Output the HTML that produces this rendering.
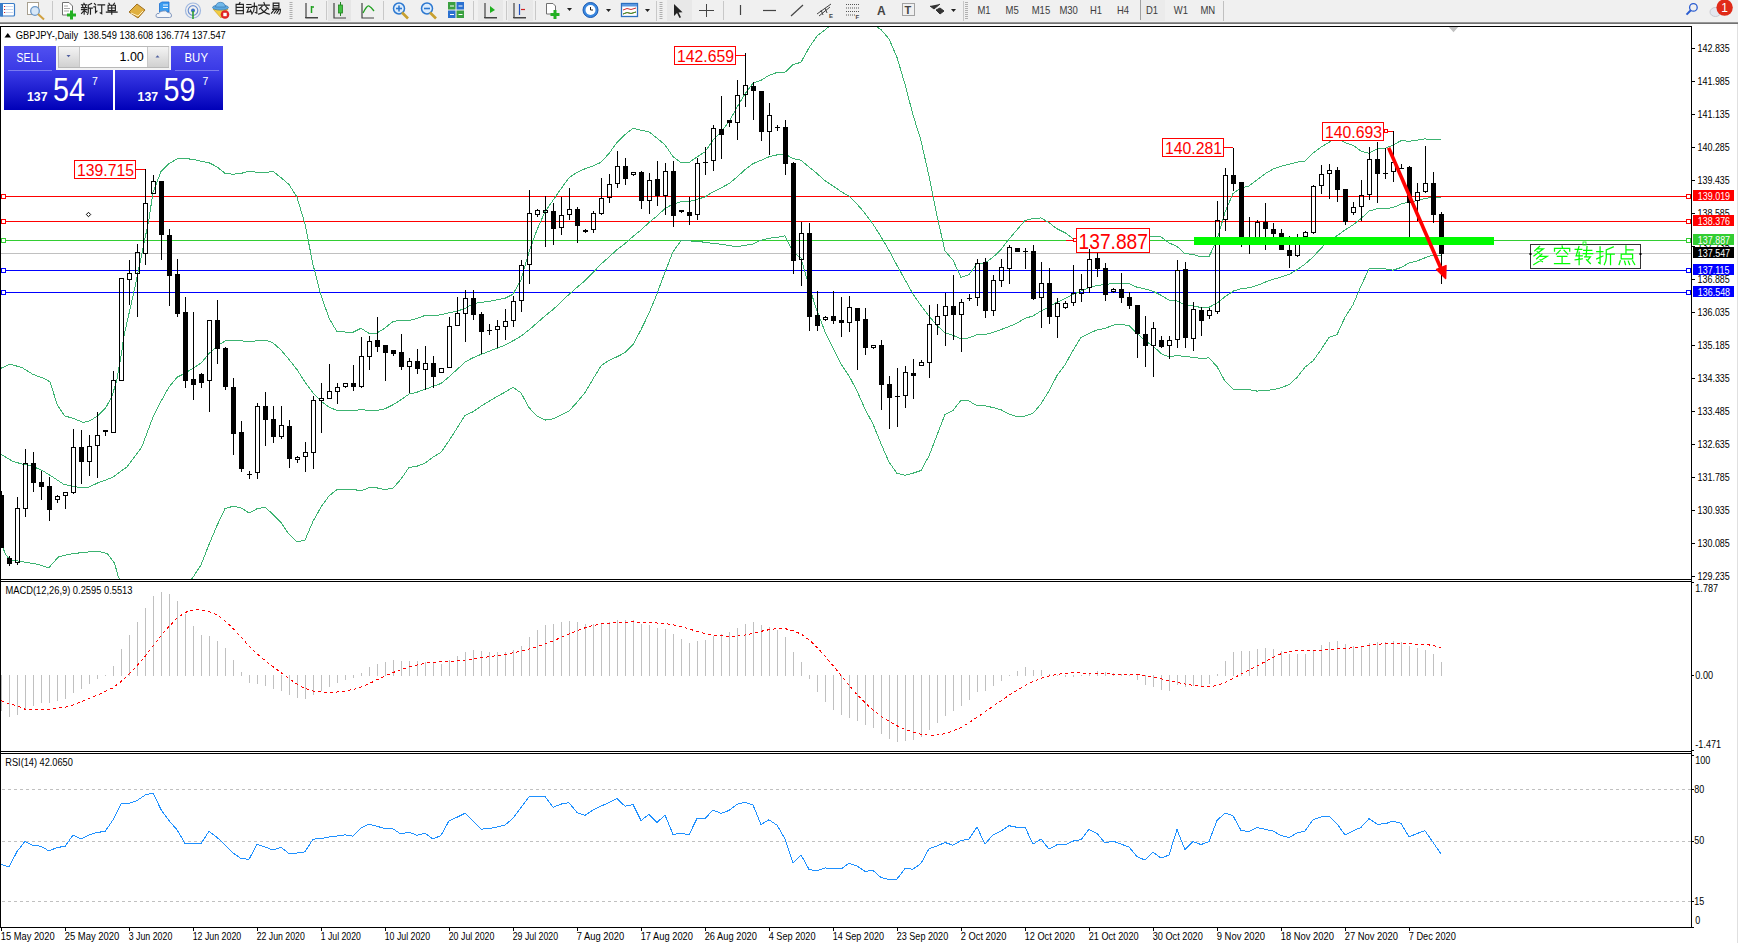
<!DOCTYPE html>
<html><head><meta charset="utf-8"><style>html,body{margin:0;padding:0;background:#fff;overflow:hidden}svg{display:block}text{font-family:"Liberation Sans",sans-serif}</style></head><body>
<svg width="1738" height="943" viewBox="0 0 1738 943" font-family='"Liberation Sans", sans-serif'>
<defs><linearGradient id="tbl" x1="0" y1="0" x2="0" y2="1"><stop offset="0" stop-color="#a8a8a8"/><stop offset="1" stop-color="#606060"/></linearGradient><linearGradient id="hdr" x1="0" y1="0" x2="0" y2="1"><stop offset="0" stop-color="#5050f0"/><stop offset="1" stop-color="#3a3ae6"/></linearGradient><linearGradient id="pbox" x1="0" y1="0" x2="0" y2="1"><stop offset="0" stop-color="#3c3ce8"/><stop offset="1" stop-color="#0000b8"/></linearGradient><linearGradient id="btn" x1="0" y1="0" x2="0" y2="1"><stop offset="0" stop-color="#f4f4f4"/><stop offset="1" stop-color="#d0d0d0"/></linearGradient><clipPath id="mc"><rect x="1" y="27" width="1690" height="552"/></clipPath><clipPath id="macdc"><rect x="1" y="582" width="1690" height="169"/></clipPath><clipPath id="rsic"><rect x="1" y="754" width="1690" height="173"/></clipPath></defs>
<rect width="1738" height="943" fill="#fff"/>
<rect x="0" y="0" width="1738" height="22" fill="#f0f0f0"/>
<rect x="0" y="22" width="1738" height="2" fill="url(#tbl)"/>
<rect x="0" y="24" width="1738" height="2" fill="#fdfdfd"/>
<rect x="0.5" y="3.5" width="14" height="12.5" rx="1" fill="#fff" stroke="#3a7cc8" stroke-width="1.2"/><rect x="0" y="3" width="3" height="13.5" fill="#3a7cc8"/><path d="M5 6.5H13M5 9.5H13M5 12.5H13" stroke="#c9d6ee" stroke-width="1"/><path d="M4 6.5h1M4 9.5h1M4 12.5h1" stroke="#e02020" stroke-width="1.2"/><rect x="27.5" y="2.5" width="11" height="12" fill="#fff" stroke="#a8a090" stroke-width="1"/><circle cx="35" cy="11" r="4.3" fill="#d8e8f8" stroke="#6c98c8" stroke-width="1.3"/><path d="M38 14L44 19.5" stroke="#d0a040" stroke-width="2"/><rect x="52" y="1" width="1" height="19" fill="#c8c8c8"/><path d="M62.5 2.5H69L72.5 6V15H62.5Z" fill="#fff" stroke="#707070" stroke-width="1"/><path d="M64 6H68M64 8.5H70M64 11H69" stroke="#909090" stroke-width="0.8"/><path d="M71.5 10.5V19.5M67 15H76" stroke="#22b022" stroke-width="3"/><path transform="translate(81.00 2.80) scale(0.958)" d="M3 0.5L3.6 1.6M0.5 2H6M1.6 3L2 4.5M4.9 3L4.5 4.5M0.5 5H6M0.5 7.2H6M3.3 5V12M3.3 8L0.6 11M3.3 8L6 10M11 0.8L7.6 2.4V9Q7.6 11 6.8 12M7.6 5.6H11.8M9.9 5.6V12" fill="none" stroke="#222" stroke-width="1.200" stroke-linecap="square"/><path transform="translate(93.50 2.80) scale(0.958)" d="M1 0.8L2.2 2.2M0.4 4.2H2.1V10.2L3.6 8.6M4.6 2.2H11.6M8.6 2.2V11.4L7 10.4" fill="none" stroke="#222" stroke-width="1.200" stroke-linecap="square"/><path transform="translate(106.00 2.80) scale(0.958)" d="M3 0.4L4 2M8.8 0.4L7.8 2M2.2 2.6H9.8V8.2H2.2ZM2.2 5.4H9.8M6 2.6V12M0.4 9.8H11.6" fill="none" stroke="#222" stroke-width="1.200" stroke-linecap="square"/><path d="M129 12L137 4L145 10L138 18Z" fill="#e0b040" stroke="#a07020" stroke-width="1"/><path d="M131 13L138 16L143 11" fill="none" stroke="#fff0c0" stroke-width="1"/><path d="M159.5 3.5L162 2H169V12H159.5Z" fill="#3c9cf0" stroke="#1a70d0" stroke-width="0.8"/><path d="M163 5H168M163 7.5H168" stroke="#e8f4ff" stroke-width="1.2"/><path d="M158 17.5Q155.5 17.5 156 15Q156.5 13 159 13.5Q160 10.5 163.5 11Q166 10 167.5 12.5Q171 12 171.5 15Q172 17.5 169.5 17.5Z" fill="#f4f6fa" stroke="#7890b8" stroke-width="0.9"/><circle cx="193" cy="10.5" r="7.5" fill="none" stroke="#a0b8e0" stroke-width="1.2"/><circle cx="193" cy="10.5" r="4.8" fill="none" stroke="#6d90d0" stroke-width="1.2"/><circle cx="193" cy="10.5" r="2" fill="#3a70c0"/><path d="M193 11V19" stroke="#30a030" stroke-width="1.6"/><path d="M213 9L228 9L221 18Z" fill="#f2cc40" stroke="#c89a20" stroke-width="0.6"/><ellipse cx="220.5" cy="7.5" rx="8" ry="2.6" fill="#5aa8e0" stroke="#3a78b0" stroke-width="0.7"/><path d="M215.5 7Q216 2.5 220.5 2.3Q225 2.5 225.5 7Z" fill="#70b8ea" stroke="#3a78b0" stroke-width="0.7"/><circle cx="225" cy="14.5" r="4.3" fill="#e02424"/><rect x="223.3" y="12.8" width="3.4" height="3.4" fill="#fff"/><path transform="translate(234.00 2.60) scale(0.958)" d="M6.2 0L5.2 1.6M2.2 1.8H9.8V11.6H2.2ZM2.2 5H9.8M2.2 8.3H9.8" fill="none" stroke="#222" stroke-width="1.200" stroke-linecap="square"/><path transform="translate(246.10 2.60) scale(0.958)" d="M0.8 2H5M0.4 5H5.8M3 5L1 10L5.4 9.2M4.4 7.8L5.8 11M6.2 4H11.2V11L9.6 10.4M8.6 0.6V4.6Q8.4 9.6 6 12" fill="none" stroke="#222" stroke-width="1.200" stroke-linecap="square"/><path transform="translate(258.20 2.60) scale(0.958)" d="M6 0L6.6 1.6M0.4 2.6H11.6M4 4L1.4 6.6M8 4L10.6 6.6M3.2 6.6Q6 11 11.6 12M8.8 6.6Q6 11 0.4 12" fill="none" stroke="#222" stroke-width="1.200" stroke-linecap="square"/><path transform="translate(270.30 2.60) scale(0.958)" d="M3 0.6H9V5.6H3ZM3 3.1H9M2.4 7H10.6Q10.6 11.6 9 12M4.4 7L1.2 11M6.8 7.4L4.2 11M9 7.6L6.8 11" fill="none" stroke="#222" stroke-width="1.200" stroke-linecap="square"/><path d="M291 2V20" stroke="#b0b0b0" stroke-width="3" stroke-dasharray="1 1"/><path d="M306 3V18H318M305 17.5h13" fill="none" stroke="#444" stroke-width="1.2"/><path d="M311.5 6V13M311.5 7h2.5" fill="none" stroke="#20a020" stroke-width="1.5"/><rect x="326" y="1" width="1" height="19" fill="#c8c8c8"/><rect x="328" y="0" width="23" height="21" fill="#e6e6e6"/><path d="M334 3V18H346" fill="none" stroke="#444" stroke-width="1.2"/><rect x="338.5" y="5" width="4" height="8" fill="#40c040" stroke="#208020" stroke-width="0.8"/><path d="M340.5 2V5M340.5 13V16" stroke="#208020" stroke-width="1"/><path d="M362 3V18H374" fill="none" stroke="#444" stroke-width="1.2"/><path d="M363 13Q367 5 369 6T374 11" fill="none" stroke="#20a020" stroke-width="1.3"/><rect x="383" y="1" width="1" height="19" fill="#c8c8c8"/><circle cx="399" cy="8.5" r="5.5" fill="#dcecfc" stroke="#2c78d0" stroke-width="1.5"/><path d="M402 12.5L408 18.5" stroke="#c8a030" stroke-width="2.6"/><path d="M396 8.5h6" stroke="#2c78d0" stroke-width="1.6"/><path d="M399 5.5v6" stroke="#2c78d0" stroke-width="1.6"/><circle cx="427" cy="8.5" r="5.5" fill="#dcecfc" stroke="#2c78d0" stroke-width="1.5"/><path d="M430 12.5L436 18.5" stroke="#c8a030" stroke-width="2.6"/><path d="M424 8.5h6" stroke="#2c78d0" stroke-width="1.6"/><rect x="448" y="2" width="7.5" height="7.5" fill="#3aa040"/><rect x="456.5" y="2" width="7.5" height="7.5" fill="#2a70d0"/><rect x="448" y="10.5" width="7.5" height="7.5" fill="#2a70d0"/><rect x="456.5" y="10.5" width="7.5" height="7.5" fill="#3aa040"/><path d="M450 6h4M458.5 6h4M450 14.5h4M458.5 14.5h4" stroke="#fff" stroke-width="1"/><rect x="473" y="1" width="1" height="19" fill="#c8c8c8"/><rect x="478" y="0" width="25" height="21" fill="#e8e8e8"/><path d="M485 3V18H497M484 17.5h13" fill="none" stroke="#444" stroke-width="1.2"/><path d="M490 6L495 10L490 13Z" fill="#20b020"/><rect x="506" y="1" width="1" height="19" fill="#c8c8c8"/><rect x="508" y="0" width="25" height="21" fill="#e8e8e8"/><path d="M514 3V18H526M513 17.5h13" fill="none" stroke="#444" stroke-width="1.2"/><path d="M519.5 4V15" stroke="#2050c0" stroke-width="1.2"/><path d="M521 9.5h4" stroke="#d02020" stroke-width="1.2"/><rect x="535" y="1" width="1" height="19" fill="#c8c8c8"/><path d="M546.5 3.5H553L555.5 6V14H546.5Z" fill="#fff" stroke="#707070" stroke-width="1"/><path d="M555 10V19M550.5 14.5H559.5" stroke="#22b022" stroke-width="3"/><path d="M567 8h5l-2.5 3z" fill="#222"/><circle cx="590.5" cy="10" r="7.5" fill="#3a88e0" stroke="#1a58b0" stroke-width="1"/><circle cx="590.5" cy="10" r="5" fill="#fff"/><path d="M590.5 7V10H593" fill="none" stroke="#222" stroke-width="1"/><path d="M606 9h5l-2.5 3z" fill="#222"/><rect x="621.5" y="3.5" width="16" height="13" fill="#fff" stroke="#2c70c0" stroke-width="1.3"/><rect x="622" y="4" width="15" height="2.5" fill="#5a98e0"/><path d="M623 10L627 8.5L631 9.5L636 8M623 14L627 12.5L631 13.5L636 12" fill="none" stroke="#d03030" stroke-width="1"/><path d="M623 14L627 12.5L631 13.5L636 12" fill="none" stroke="#30a030" stroke-width="1"/><path d="M645 9h5l-2.5 3z" fill="#222"/><rect x="656" y="1" width="1" height="20" fill="#c8c8c8"/><path d="M661 2V20" stroke="#b0b0b0" stroke-width="3" stroke-dasharray="1 1"/><rect x="667" y="0" width="25" height="21" fill="#e8e8e8"/><path d="M674 4L674 16L677 13L679.5 18L681 17.3L678.6 12.4L682.5 12.2Z" fill="#222"/><path d="M706.5 4V17M699 10.5H714" stroke="#444" stroke-width="1"/><rect x="723" y="1" width="1" height="19" fill="#c8c8c8"/><path d="M740.5 5V15" stroke="#444" stroke-width="1.2"/><path d="M763 10.5H776" stroke="#444" stroke-width="1.2"/><path d="M791 16L803 5" stroke="#444" stroke-width="1.2"/><path d="M817 14L831 4M819 16L830 7M821 10L823 15M825 8L827 13" stroke="#444" stroke-width="1"/><text x="829" y="18" font-size="6" fill="#444" font-weight="bold">E</text><path d="M846 4.5H859M846 8H859M846 11.5H859M846 15H855" stroke="#555" stroke-width="1" stroke-dasharray="1 1"/><text x="855.5" y="19" font-size="6" fill="#444" font-weight="bold">F</text><text x="877" y="15" font-size="12" fill="#444" font-weight="bold">A</text><rect x="902.5" y="3.5" width="12" height="12" fill="none" stroke="#555" stroke-width="1" stroke-dasharray="1 1"/><text x="904.5" y="14" font-size="11" fill="#444" font-weight="bold">T</text><path d="M930 6L934 9L940 4M936 10L940 14L944 11L940 8Z" fill="#333" stroke="#333" stroke-width="1"/><path d="M951 9h5l-2.5 3z" fill="#222"/><rect x="963" y="1" width="1" height="20" fill="#c8c8c8"/><path d="M966.5 2V20" stroke="#b0b0b0" stroke-width="3" stroke-dasharray="1 1"/><rect x="1140" y="0" width="25" height="21" fill="#ebebeb"/><rect x="1140" y="0" width="1" height="20" fill="#a0a0a0"/><text x="977.40" y="14.00" font-size="10.3" fill="#3c3c3c" text-anchor="start" textLength="13.2" lengthAdjust="spacingAndGlyphs">M1</text><text x="1005.60" y="14.00" font-size="10.3" fill="#3c3c3c" text-anchor="start" textLength="13.2" lengthAdjust="spacingAndGlyphs">M5</text><text x="1031.70" y="14.00" font-size="10.3" fill="#3c3c3c" text-anchor="start" textLength="18.5" lengthAdjust="spacingAndGlyphs">M15</text><text x="1059.40" y="14.00" font-size="10.3" fill="#3c3c3c" text-anchor="start" textLength="18.5" lengthAdjust="spacingAndGlyphs">M30</text><text x="1090.00" y="14.00" font-size="10.3" fill="#3c3c3c" text-anchor="start" textLength="12.1" lengthAdjust="spacingAndGlyphs">H1</text><text x="1117.00" y="14.00" font-size="10.3" fill="#3c3c3c" text-anchor="start" textLength="12.1" lengthAdjust="spacingAndGlyphs">H4</text><text x="1146.00" y="14.00" font-size="10.3" fill="#3c3c3c" text-anchor="start" textLength="12.1" lengthAdjust="spacingAndGlyphs">D1</text><text x="1173.80" y="14.00" font-size="10.3" fill="#3c3c3c" text-anchor="start" textLength="14.2" lengthAdjust="spacingAndGlyphs">W1</text><text x="1200.40" y="14.00" font-size="10.3" fill="#3c3c3c" text-anchor="start" textLength="14.8" lengthAdjust="spacingAndGlyphs">MN</text><rect x="1223" y="1" width="1" height="20" fill="#c0c0c0"/><circle cx="1693.4" cy="7.4" r="3.8" fill="none" stroke="#2a5cd0" stroke-width="1.3"/><path d="M1690.8 10.2L1686.5 14.6" stroke="#2a5cd0" stroke-width="2"/><ellipse cx="1715.5" cy="12" rx="5.5" ry="4.5" fill="#e4e6ee" stroke="#c0c0c8" stroke-width="0.8"/><circle cx="1724.6" cy="7.6" r="8.2" fill="#e02a18"/><text x="1724.6" y="12" font-size="12" fill="#fff" text-anchor="middle" font-family='"Liberation Serif", serif'>1</text>
<rect x="1737" y="24" width="1" height="919" fill="#e0e0e0"/>
<g shape-rendering="crispEdges">
<rect x="1" y="253" width="1690" height="1" fill="#c0c0c0"/>
<rect x="1" y="196" width="1690" height="1" fill="#ff0000"/>
<rect x="1.5" y="194.5" width="4" height="4" fill="#fff" stroke="#ff0000" stroke-width="1"/>
<rect x="1686.5" y="194.5" width="4" height="4" fill="#fff" stroke="#ff0000" stroke-width="1"/>
<rect x="1" y="221" width="1690" height="1" fill="#ff0000"/>
<rect x="1.5" y="219.5" width="4" height="4" fill="#fff" stroke="#ff0000" stroke-width="1"/>
<rect x="1686.5" y="219.5" width="4" height="4" fill="#fff" stroke="#ff0000" stroke-width="1"/>
<rect x="1" y="240" width="1690" height="1" fill="#32cd32"/>
<rect x="1.5" y="238.5" width="4" height="4" fill="#fff" stroke="#32cd32" stroke-width="1"/>
<rect x="1686.5" y="238.5" width="4" height="4" fill="#fff" stroke="#32cd32" stroke-width="1"/>
<rect x="1" y="270" width="1690" height="1" fill="#0000ff"/>
<rect x="1.5" y="268.5" width="4" height="4" fill="#fff" stroke="#0000ff" stroke-width="1"/>
<rect x="1686.5" y="268.5" width="4" height="4" fill="#fff" stroke="#0000ff" stroke-width="1"/>
<rect x="1" y="292" width="1690" height="1" fill="#0000ff"/>
<rect x="1.5" y="290.5" width="4" height="4" fill="#fff" stroke="#0000ff" stroke-width="1"/>
<rect x="1686.5" y="290.5" width="4" height="4" fill="#fff" stroke="#0000ff" stroke-width="1"/>
</g>
<g fill="none" stroke="#3cb371" stroke-width="1" clip-path="url(#mc)" shape-rendering="crispEdges">
<path d="M1 368.3 L9.8 364.1 L22 367.6 L33 374.4 L42.7 378 L50 381.7 L57.3 404.9 L64.6 415.9 L73.2 418.3 L83 422.4 L90.2 420.7 L97.6 415.9 L106 407.3 L112 396.3 L117 379.3 L122 350 L123.5 338 L135 287 L149 219 L153 192.3 L161 171.6 L169 163.7 L177 159 L185 158.5 L193 159.4 L201 161.2 L209 162.7 L217 166.9 L225 173.3 L233 174.2 L241 173.5 L249 171 L257 172.3 L265 172.9 L273 171.2 L281 177.7 L289 184.5 L297 197.2 L305 224.1 L313 264.6 L321 295.4 L329 318 L337 331.8 L345 332 L353 332.3 L361 328.3 L369 333.4 L377 333 L385 328 L393 321.5 L401 320.3 L409 320.7 L417 318.3 L425 315.5 L433 315.7 L441 314.7 L449 312.8 L457 311.1 L465 308.6 L473 303.6 L481 302.5 L489 301.3 L497 299.9 L505 298.2 L513 294.3 L521 279.7 L529 252.1 L537 229.8 L545 211.6 L553 200.3 L561 188.8 L569 177.7 L577 172.3 L585 168.8 L593 166 L601 162.3 L609 153.5 L617 142.4 L625 134.6 L633 128.4 L641 130.2 L649 131.8 L657 138.1 L665 144.9 L673 156.6 L681 162.6 L689 162.6 L697 156.9 L705 151.8 L713 140.2 L721 131.7 L729 121.7 L737 107.3 L745 94 L753 83.2 L761 80.4 L769 75.3 L777 72.5 L785 72.3 L793 64.6 L801 62.3 L809 47.8 L817 36 L825 29.8 L833 23.7 L841 18.8 L849 16.4 L857 17.1 L865 17.5 L873 24.3 L881 29.6 L889 38.9 L897 57.4 L905 84.3 L913 114.9 L921 140.6 L929 176.2 L937 215.8 L945 251 L953 260.1 L961 277.5 L969 274.7 L977 263.6 L985 262.9 L993 257.3 L1001 249.4 L1009 239.1 L1017 229.7 L1025 220.5 L1033 218.6 L1041 217.9 L1049 222.7 L1057 228.8 L1065 232.7 L1073 238.7 L1081 244.5 L1089 241.8 L1097 240.7 L1105 240.9 L1113 241.8 L1121 241.9 L1129 241.6 L1137 241.1 L1145 237.1 L1153 236.9 L1161 237 L1169 242.9 L1177 246.4 L1185 253.7 L1193 254.3 L1201 256.9 L1209 256.7 L1217 239.7 L1225 212.2 L1233 193.5 L1241 188 L1249 185.9 L1257 179.9 L1265 173.8 L1273 169.1 L1281 166.3 L1289 164.3 L1297 162.1 L1305 161.2 L1313 153.2 L1321 147 L1329 142.3 L1337 137 L1345 142.8 L1353 145.2 L1361 151.2 L1369 153.3 L1377 148.9 L1385 148.5 L1393 145 L1401 140.7 L1409 141.2 L1417 140.2 L1425 138.9 L1433 139.7 L1441 139.2"/>
<path d="M1 454.4 L12.2 461 L22 464.1 L31.7 465.9 L42.7 470.7 L52.4 476.8 L63.4 484.1 L73.2 486.6 L83 487.8 L89 487.1 L97.6 483 L112.2 477.6 L126.8 467 L141.5 447.6 L153 417.1 L161 401.4 L169 387 L177 377.3 L185 373.2 L193 368.3 L201 363.1 L209 353.6 L217 346.2 L225 341 L233 340.3 L241 340.6 L249 342 L257 340.6 L265 340 L273 342.8 L281 350.1 L289 359.4 L297 369.6 L305 382.1 L313 393 L321 401.2 L329 407 L337 410.6 L345 410.7 L353 410.9 L361 409.5 L369 410.6 L377 410.5 L385 408.8 L393 404.8 L401 399.7 L409 394.1 L417 392.2 L425 389.4 L433 386.4 L441 383.5 L449 376.8 L457 369.6 L465 362 L473 357.7 L481 354.4 L489 351.3 L497 348.2 L505 345.1 L513 340.8 L521 336.2 L529 329.9 L537 323 L545 315.9 L553 309.6 L561 302 L569 294.4 L577 287.3 L585 280.7 L593 272.5 L601 264.1 L609 257 L617 249.6 L625 243.6 L633 236.5 L641 230 L649 222.5 L657 216 L665 208.5 L673 204.2 L681 201.6 L689 201.7 L697 199.4 L705 196.9 L713 191.9 L721 187.9 L729 183.6 L737 177 L745 169.7 L753 163.6 L761 160.3 L769 156.8 L777 154.9 L785 154.1 L793 158.5 L801 160.2 L809 167 L817 173.5 L825 180.7 L833 186 L841 191.5 L849 196.1 L857 204 L865 213.3 L873 224.2 L881 236.7 L889 250.4 L897 265.4 L905 279.8 L913 294 L921 305.6 L929 316.1 L937 325.5 L945 332.7 L953 335.4 L961 338.8 L969 337.9 L977 334.7 L985 334.4 L993 332.4 L1001 329.6 L1009 326.6 L1017 323.2 L1025 318.3 L1033 316 L1041 310.9 L1049 306.8 L1057 302.2 L1065 298.7 L1073 294.6 L1081 291 L1089 287.7 L1097 285.3 L1105 284.7 L1113 283.4 L1121 283.2 L1129 283.6 L1137 287.2 L1145 288.9 L1153 291.3 L1161 295.3 L1169 300 L1177 300.9 L1185 305.2 L1193 305.7 L1201 307.6 L1209 307.3 L1217 303.1 L1225 296.7 L1233 291.2 L1241 288.6 L1249 287.8 L1257 285.5 L1265 282.2 L1273 279.4 L1281 277 L1289 274.5 L1297 269.8 L1305 264.1 L1313 257 L1321 248.4 L1329 239.9 L1337 235.8 L1345 230 L1353 224.9 L1361 218.6 L1369 211.1 L1377 208.8 L1385 208.7 L1393 207.6 L1401 204.1 L1409 202.1 L1417 200.6 L1425 198.4 L1433 197.4 L1441 197.6"/>
<path d="M1 543.9 L6 554.9 L9.8 559.8 L22 561.7 L36.6 564.1 L48.8 567.8 L58.5 556.8 L68.3 554.4 L83 552.4 L97.6 551.2 L107.3 553.7 L114.6 563.4 L118.3 576.8 L153 641.9 L161 631.3 L169 610.4 L177 595.6 L185 587.9 L193 577.2 L201 565 L209 544.5 L217 525.6 L225 508.6 L233 506.3 L241 507.8 L249 513 L257 508.8 L265 507.1 L273 514.4 L281 522.6 L289 534.3 L297 542.1 L305 540 L313 521.4 L321 507 L329 496 L337 489.5 L345 489.5 L353 489.4 L361 490.8 L369 487.7 L377 487.9 L385 489.6 L393 488.2 L401 479.1 L409 467.4 L417 466.2 L425 463.2 L433 457 L441 452.3 L449 440.8 L457 428.2 L465 415.3 L473 411.8 L481 406.2 L489 401.3 L497 396.6 L505 392.1 L513 387.4 L521 392.8 L529 407.6 L537 416.2 L545 420.1 L553 418.8 L561 415.2 L569 411.1 L577 402.3 L585 392.6 L593 379 L601 365.8 L609 360.4 L617 356.8 L625 352.6 L633 344.6 L641 329.7 L649 313.2 L657 293.8 L665 272.1 L673 251.8 L681 240.6 L689 240.8 L697 241.8 L705 242.1 L713 243.7 L721 244.1 L729 245.5 L737 246.7 L745 245.4 L753 244 L761 240.2 L769 238.3 L777 237.3 L785 235.9 L793 252.4 L801 258 L809 286.1 L817 310.9 L825 331.7 L833 348.3 L841 364.2 L849 375.8 L857 390.9 L865 409.1 L873 424 L881 443.8 L889 461.9 L897 473.4 L905 475.3 L913 473.2 L921 470.5 L929 455.9 L937 435.2 L945 414.3 L953 410.6 L961 400.1 L969 401 L977 405.8 L985 405.9 L993 407.5 L1001 409.8 L1009 414.1 L1017 416.6 L1025 416.1 L1033 413.3 L1041 403.8 L1049 390.9 L1057 375.6 L1065 364.8 L1073 350.5 L1081 337.4 L1089 333.5 L1097 329.9 L1105 328.5 L1113 325.1 L1121 324.5 L1129 325.6 L1137 333.3 L1145 340.8 L1153 345.8 L1161 353.6 L1169 357 L1177 355.3 L1185 356.7 L1193 357.2 L1201 358.4 L1209 357.9 L1217 366.6 L1225 381.2 L1233 389 L1241 389.3 L1249 389.7 L1257 391.1 L1265 390.5 L1273 389.7 L1281 387.7 L1289 384.7 L1297 377.5 L1305 367.1 L1313 360.9 L1321 349.7 L1329 337.4 L1337 334.7 L1345 317.3 L1353 304.7 L1361 286 L1369 268.9 L1377 268.7 L1385 268.8 L1393 270.2 L1401 267.5 L1409 263.1 L1417 261 L1425 257.8 L1433 255.1 L1441 256"/>
</g>
<rect x="674.5" y="46.5" width="61" height="18" fill="#fff" stroke="#ff0000" stroke-width="1" shape-rendering="crispEdges"/><rect x="736" y="55" width="9" height="1" fill="#ff0000" shape-rendering="crispEdges"/><text x="677.0" y="62.3" font-size="16" fill="#ff0000" textLength="57.0" lengthAdjust="spacingAndGlyphs">142.659</text><rect x="74.5" y="160.5" width="61" height="18" fill="#fff" stroke="#ff0000" stroke-width="1" shape-rendering="crispEdges"/><rect x="136" y="169" width="9" height="1" fill="#ff0000" shape-rendering="crispEdges"/><text x="77.0" y="176.3" font-size="16" fill="#ff0000" textLength="57.0" lengthAdjust="spacingAndGlyphs">139.715</text><rect x="1162.5" y="138.5" width="61" height="18" fill="#fff" stroke="#ff0000" stroke-width="1" shape-rendering="crispEdges"/><rect x="1224" y="147" width="9" height="1" fill="#ff0000" shape-rendering="crispEdges"/><text x="1165.0" y="154.3" font-size="16" fill="#ff0000" textLength="57.0" lengthAdjust="spacingAndGlyphs">140.281</text><rect x="1322.5" y="122.5" width="61" height="18" fill="#fff" stroke="#ff0000" stroke-width="1" shape-rendering="crispEdges"/><rect x="1384" y="131" width="9" height="1" fill="#ff0000" shape-rendering="crispEdges"/><rect x="1384.5" y="129.5" width="3" height="3" fill="#fff" stroke="#ff0000" stroke-width="1" shape-rendering="crispEdges"/><text x="1325.0" y="138.3" font-size="16" fill="#ff0000" textLength="57.0" lengthAdjust="spacingAndGlyphs">140.693</text><rect x="1066" y="240" width="7" height="1" fill="#ff0000" shape-rendering="crispEdges"/><rect x="1073.5" y="238.5" width="2.5" height="3" fill="#fff" stroke="#ff0000" stroke-width="1" shape-rendering="crispEdges"/><rect x="1076.5" y="228.5" width="73" height="24" fill="#fff" stroke="#ff0000" stroke-width="1" shape-rendering="crispEdges"/><text x="1078.5" y="249.2" font-size="22" fill="#ff0000" textLength="69.5" lengthAdjust="spacingAndGlyphs">137.887</text><path d="M88.5 212.3L90.7 214.5L88.5 216.7L86.3 214.5Z" fill="#fff" stroke="#000" stroke-width="1"/>
<g shape-rendering="crispEdges">
<path fill="#000" d="M1 491h1v4h-1zM-1 495h5v53h-5zM9 556h1v2h-1zM7 558h5v6h-5zM9 564h1v2h-1zM17 497h1v11h-1zM15 508h5v1h-5zM15 562h5v1h-5zM15 508h1v55h-1zM19 508h1v55h-1zM17 563h1v2h-1zM25 449h1v14h-1zM23 463h5v1h-5zM23 508h5v1h-5zM23 463h1v46h-1zM27 463h1v46h-1zM25 509h1v8h-1zM33 452h1v11h-1zM31 463h5v20h-5zM33 483h1v9h-1zM41 471h1v11h-1zM39 482h5v5h-5zM41 487h1v13h-1zM49 477h1v9h-1zM47 486h5v24h-5zM49 510h1v11h-1zM57 495h1v1h-1zM55 496h5v1h-5zM55 499h5v1h-5zM55 496h1v4h-1zM59 496h1v4h-1zM57 500h1v3h-1zM63 492h5v1h-5zM63 495h5v1h-5zM63 492h1v4h-1zM67 492h1v4h-1zM65 496h1v13h-1zM73 429h1v18h-1zM71 447h5v1h-5zM71 492h5v1h-5zM71 447h1v46h-1zM75 447h1v46h-1zM73 493h1v1h-1zM81 430h1v17h-1zM79 447h5v15h-5zM81 462h1v22h-1zM89 435h1v11h-1zM87 446h5v1h-5zM87 461h5v1h-5zM87 446h1v16h-1zM91 446h1v16h-1zM89 462h1v14h-1zM97 412h1v23h-1zM95 435h5v1h-5zM95 445h5v1h-5zM95 435h1v11h-1zM99 435h1v11h-1zM97 446h1v32h-1zM103 430h5v2h-5zM105 432h1v4h-1zM113 371h1v9h-1zM111 380h5v1h-5zM111 432h5v1h-5zM111 380h1v53h-1zM115 380h1v53h-1zM119 278h5v1h-5zM119 380h5v1h-5zM119 278h1v103h-1zM123 278h1v103h-1zM129 260h1v13h-1zM127 273h5v1h-5zM127 279h5v1h-5zM127 273h1v7h-1zM131 273h1v7h-1zM129 280h1v25h-1zM137 244h1v8h-1zM135 252h5v1h-5zM135 273h5v1h-5zM135 252h1v22h-1zM139 252h1v22h-1zM137 274h1v43h-1zM145 169h1v34h-1zM143 203h5v1h-5zM143 253h5v1h-5zM143 203h1v51h-1zM147 203h1v51h-1zM145 254h1v11h-1zM153 175h1v6h-1zM151 181h5v1h-5zM151 193h5v1h-5zM151 181h1v13h-1zM155 181h1v13h-1zM159 181h5v54h-5zM161 235h1v25h-1zM169 229h1v6h-1zM167 235h5v41h-5zM169 276h1v30h-1zM177 259h1v15h-1zM175 274h5v40h-5zM177 314h1v3h-1zM185 297h1v15h-1zM183 312h5v69h-5zM185 381h1v7h-1zM193 312h1v67h-1zM191 379h5v6h-5zM193 385h1v15h-1zM201 373h1v1h-1zM199 374h5v9h-5zM201 383h1v5h-1zM207 320h5v1h-5zM207 380h5v1h-5zM207 320h1v61h-1zM211 320h1v61h-1zM209 381h1v31h-1zM217 300h1v20h-1zM215 320h5v29h-5zM217 349h1v15h-1zM225 347h1v1h-1zM223 348h5v39h-5zM225 387h1v3h-1zM233 378h1v9h-1zM231 387h5v47h-5zM233 434h1v21h-1zM241 421h1v11h-1zM239 432h5v37h-5zM241 469h1v3h-1zM249 471h1v8h-1zM247 474h5v1h-5zM257 403h1v3h-1zM255 406h5v1h-5zM255 472h5v1h-5zM255 406h1v67h-1zM259 406h1v67h-1zM257 473h1v6h-1zM265 392h1v14h-1zM263 406h5v14h-5zM265 420h1v26h-1zM273 406h1v13h-1zM271 419h5v18h-5zM273 437h1v6h-1zM281 406h1v19h-1zM279 425h5v1h-5zM279 436h5v1h-5zM279 425h1v12h-1zM283 425h1v12h-1zM281 437h1v2h-1zM289 420h1v6h-1zM287 426h5v33h-5zM289 459h1v9h-1zM297 456h1v1h-1zM295 457h5v1h-5zM295 459h5v1h-5zM295 457h1v3h-1zM299 457h1v3h-1zM297 460h1v3h-1zM305 442h1v10h-1zM303 452h5v1h-5zM303 456h5v1h-5zM303 452h1v5h-1zM307 452h1v5h-1zM305 457h1v15h-1zM313 396h1v4h-1zM311 400h5v1h-5zM311 452h5v1h-5zM311 400h1v53h-1zM315 400h1v53h-1zM313 453h1v16h-1zM321 383h1v15h-1zM319 398h5v1h-5zM319 400h5v1h-5zM319 398h1v3h-1zM323 398h1v3h-1zM321 401h1v32h-1zM329 364h1v27h-1zM327 391h5v1h-5zM327 398h5v1h-5zM327 391h1v8h-1zM331 391h1v8h-1zM337 383h1v4h-1zM335 387h5v1h-5zM335 391h5v1h-5zM335 387h1v5h-1zM339 387h1v5h-1zM337 392h1v12h-1zM343 383h5v1h-5zM343 386h5v1h-5zM343 383h1v4h-1zM347 383h1v4h-1zM345 387h1v1h-1zM353 365h1v18h-1zM351 383h5v4h-5zM353 387h1v4h-1zM361 337h1v19h-1zM359 356h5v1h-5zM359 386h5v1h-5zM359 356h1v31h-1zM363 356h1v31h-1zM361 387h1v1h-1zM369 336h1v5h-1zM367 341h5v1h-5zM367 356h5v1h-5zM367 341h1v16h-1zM371 341h1v16h-1zM369 357h1v13h-1zM377 317h1v23h-1zM375 340h5v7h-5zM377 347h1v5h-1zM383 345h5v8h-5zM385 353h1v28h-1zM391 350h5v4h-5zM393 354h1v2h-1zM401 334h1v18h-1zM399 352h5v15h-5zM401 367h1v3h-1zM409 358h1v3h-1zM407 361h5v1h-5zM407 366h5v1h-5zM407 361h1v6h-1zM411 361h1v6h-1zM409 367h1v26h-1zM417 349h1v12h-1zM415 361h5v8h-5zM417 369h1v5h-1zM425 346h1v17h-1zM423 363h5v1h-5zM423 369h5v1h-5zM423 363h1v7h-1zM427 363h1v7h-1zM425 370h1v20h-1zM433 356h1v7h-1zM431 363h5v14h-5zM433 377h1v11h-1zM439 368h5v1h-5zM439 372h5v1h-5zM439 368h1v5h-1zM443 368h1v5h-1zM449 317h1v9h-1zM447 326h5v1h-5zM447 367h5v1h-5zM447 326h1v42h-1zM451 326h1v42h-1zM457 297h1v16h-1zM455 313h5v1h-5zM455 325h5v1h-5zM455 313h1v13h-1zM459 313h1v13h-1zM465 290h1v8h-1zM463 298h5v1h-5zM463 313h5v1h-5zM463 298h1v16h-1zM467 298h1v16h-1zM465 314h1v28h-1zM473 290h1v8h-1zM471 298h5v17h-5zM473 315h1v5h-1zM481 312h1v2h-1zM479 314h5v18h-5zM481 332h1v22h-1zM489 324h1v11h-1zM487 330h5v1h-5zM497 320h1v6h-1zM495 326h5v1h-5zM495 329h5v1h-5zM495 326h1v4h-1zM499 326h1v4h-1zM497 330h1v18h-1zM505 309h1v12h-1zM503 321h5v1h-5zM503 326h5v1h-5zM503 321h1v6h-1zM507 321h1v6h-1zM505 327h1v13h-1zM513 296h1v5h-1zM511 301h5v1h-5zM511 320h5v1h-5zM511 301h1v20h-1zM515 301h1v20h-1zM513 321h1v6h-1zM521 260h1v5h-1zM519 265h5v1h-5zM519 300h5v1h-5zM519 265h1v36h-1zM523 265h1v36h-1zM521 301h1v11h-1zM529 190h1v23h-1zM527 213h5v1h-5zM527 264h5v1h-5zM527 213h1v52h-1zM531 213h1v52h-1zM529 265h1v19h-1zM537 209h1v1h-1zM535 210h5v1h-5zM535 214h5v1h-5zM535 210h1v5h-1zM539 210h1v5h-1zM537 215h1v2h-1zM545 196h1v14h-1zM543 210h5v1h-5zM543 212h5v1h-5zM543 210h1v3h-1zM547 210h1v3h-1zM545 213h1v34h-1zM553 203h1v8h-1zM551 211h5v18h-5zM553 229h1v16h-1zM561 197h1v18h-1zM559 215h5v1h-5zM559 227h5v1h-5zM559 215h1v13h-1zM563 215h1v13h-1zM561 228h1v7h-1zM569 188h1v21h-1zM567 209h5v1h-5zM567 214h5v1h-5zM567 209h1v6h-1zM571 209h1v6h-1zM569 215h1v5h-1zM577 207h1v2h-1zM575 209h5v17h-5zM577 226h1v17h-1zM585 229h1v1h-1zM583 230h5v2h-5zM585 232h1v1h-1zM593 211h1v2h-1zM591 213h5v1h-5zM591 229h5v1h-5zM591 213h1v17h-1zM595 213h1v17h-1zM593 230h1v3h-1zM601 178h1v20h-1zM599 198h5v1h-5zM599 213h5v1h-5zM599 198h1v16h-1zM603 198h1v16h-1zM601 214h1v1h-1zM609 174h1v10h-1zM607 184h5v1h-5zM607 197h5v1h-5zM607 184h1v14h-1zM611 184h1v14h-1zM609 198h1v5h-1zM617 151h1v15h-1zM615 166h5v1h-5zM615 183h5v1h-5zM615 166h1v18h-1zM619 166h1v18h-1zM617 184h1v4h-1zM625 158h1v8h-1zM623 166h5v13h-5zM625 179h1v6h-1zM631 172h5v1h-5zM631 174h5v1h-5zM631 172h1v3h-1zM635 172h1v3h-1zM633 175h1v1h-1zM641 171h1v1h-1zM639 172h5v29h-5zM641 201h1v8h-1zM649 173h1v7h-1zM647 180h5v1h-5zM647 200h5v1h-5zM647 180h1v21h-1zM651 180h1v21h-1zM649 201h1v13h-1zM657 161h1v18h-1zM655 179h5v17h-5zM657 196h1v10h-1zM665 163h1v8h-1zM663 171h5v1h-5zM663 195h5v1h-5zM663 171h1v25h-1zM667 171h1v25h-1zM665 196h1v19h-1zM673 161h1v10h-1zM671 171h5v45h-5zM673 216h1v11h-1zM679 210h5v2h-5zM681 212h1v1h-1zM689 197h1v15h-1zM687 212h5v4h-5zM689 216h1v9h-1zM697 158h1v5h-1zM695 163h5v1h-5zM695 214h5v1h-5zM695 163h1v52h-1zM699 163h1v52h-1zM697 215h1v5h-1zM705 147h1v28h-1zM703 162h5v1h-5zM713 125h1v3h-1zM711 128h5v1h-5zM711 160h5v1h-5zM711 128h1v33h-1zM715 128h1v33h-1zM713 161h1v10h-1zM721 96h1v33h-1zM719 129h5v6h-5zM721 135h1v24h-1zM727 120h5v3h-5zM729 123h1v4h-1zM737 80h1v15h-1zM735 95h5v1h-5zM735 122h5v1h-5zM735 95h1v28h-1zM739 95h1v28h-1zM737 123h1v17h-1zM745 53h1v32h-1zM743 85h5v1h-5zM743 94h5v1h-5zM743 85h1v10h-1zM747 85h1v10h-1zM745 95h1v12h-1zM753 82h1v4h-1zM751 86h5v5h-5zM753 91h1v29h-1zM759 91h5v41h-5zM761 132h1v9h-1zM769 103h1v12h-1zM767 115h5v1h-5zM767 131h5v1h-5zM767 115h1v17h-1zM771 115h1v17h-1zM769 132h1v23h-1zM777 125h1v6h-1zM775 127h5v1h-5zM785 120h1v7h-1zM783 127h5v37h-5zM785 164h1v11h-1zM793 162h1v1h-1zM791 163h5v98h-5zM793 261h1v13h-1zM801 222h1v11h-1zM799 233h5v1h-5zM799 259h5v1h-5zM799 233h1v27h-1zM803 233h1v27h-1zM801 260h1v26h-1zM809 223h1v10h-1zM807 233h5v84h-5zM809 317h1v14h-1zM817 291h1v24h-1zM815 315h5v11h-5zM817 326h1v5h-1zM825 316h1v1h-1zM823 317h5v1h-5zM823 319h5v1h-5zM823 317h1v3h-1zM827 317h1v3h-1zM825 320h1v1h-1zM833 291h1v25h-1zM831 316h5v5h-5zM833 321h1v3h-1zM841 297h1v23h-1zM839 320h5v3h-5zM841 323h1v14h-1zM849 296h1v11h-1zM847 307h5v1h-5zM847 322h5v1h-5zM847 307h1v16h-1zM851 307h1v16h-1zM849 323h1v9h-1zM855 308h5v13h-5zM857 321h1v49h-1zM865 308h1v11h-1zM863 319h5v29h-5zM865 348h1v7h-1zM871 345h5v1h-5zM871 347h5v1h-5zM871 345h1v3h-1zM875 345h1v3h-1zM873 348h1v1h-1zM881 340h1v5h-1zM879 345h5v40h-5zM881 385h1v25h-1zM889 376h1v8h-1zM887 384h5v14h-5zM889 398h1v31h-1zM897 368h1v59h-1zM895 396h5v1h-5zM905 366h1v6h-1zM903 372h5v1h-5zM903 395h5v1h-5zM903 372h1v24h-1zM907 372h1v24h-1zM905 396h1v12h-1zM913 359h1v14h-1zM911 373h5v3h-5zM913 376h1v23h-1zM921 360h1v2h-1zM919 362h5v1h-5zM919 365h5v1h-5zM919 362h1v4h-1zM923 362h1v4h-1zM929 305h1v19h-1zM927 324h5v1h-5zM927 362h5v1h-5zM927 324h1v39h-1zM931 324h1v39h-1zM929 363h1v15h-1zM937 304h1v12h-1zM935 316h5v1h-5zM935 324h5v1h-5zM935 316h1v9h-1zM939 316h1v9h-1zM937 325h1v10h-1zM945 293h1v13h-1zM943 306h5v1h-5zM943 315h5v1h-5zM943 306h1v10h-1zM947 306h1v10h-1zM945 316h1v30h-1zM953 275h1v31h-1zM951 306h5v9h-5zM953 315h1v25h-1zM961 299h1v3h-1zM959 302h5v1h-5zM959 314h5v1h-5zM959 302h1v13h-1zM963 302h1v13h-1zM961 315h1v37h-1zM969 294h1v7h-1zM967 298h5v1h-5zM977 259h1v4h-1zM975 263h5v1h-5zM975 297h5v1h-5zM975 263h1v35h-1zM979 263h1v35h-1zM977 298h1v8h-1zM985 258h1v4h-1zM983 262h5v49h-5zM985 311h1v7h-1zM993 275h1v5h-1zM991 280h5v1h-5zM991 310h5v1h-5zM991 280h1v31h-1zM995 280h1v31h-1zM993 311h1v5h-1zM1001 259h1v8h-1zM999 267h5v1h-5zM999 280h5v1h-5zM999 267h1v14h-1zM1003 267h1v14h-1zM1001 281h1v6h-1zM1009 245h1v2h-1zM1007 247h5v1h-5zM1007 268h5v1h-5zM1007 247h1v22h-1zM1011 247h1v22h-1zM1009 269h1v15h-1zM1015 248h5v4h-5zM1025 248h1v21h-1zM1023 251h5v1h-5zM1033 245h1v6h-1zM1031 251h5v48h-5zM1033 299h1v1h-1zM1041 262h1v21h-1zM1039 283h5v1h-5zM1039 297h5v1h-5zM1039 283h1v15h-1zM1043 283h1v15h-1zM1041 298h1v30h-1zM1049 268h1v15h-1zM1047 283h5v34h-5zM1049 317h1v7h-1zM1057 298h1v5h-1zM1055 303h5v1h-5zM1055 316h5v1h-5zM1055 303h1v14h-1zM1059 303h1v14h-1zM1057 317h1v21h-1zM1065 301h1v2h-1zM1063 303h5v1h-5zM1063 307h5v1h-5zM1063 303h1v5h-1zM1067 303h1v5h-1zM1065 308h1v1h-1zM1073 265h1v28h-1zM1071 293h5v1h-5zM1071 302h5v1h-5zM1071 293h1v10h-1zM1075 293h1v10h-1zM1073 303h1v3h-1zM1081 274h1v15h-1zM1079 289h5v1h-5zM1079 293h5v1h-5zM1079 289h1v5h-1zM1083 289h1v5h-1zM1081 294h1v8h-1zM1089 249h1v10h-1zM1087 259h5v1h-5zM1087 287h5v1h-5zM1087 259h1v29h-1zM1091 259h1v29h-1zM1089 288h1v5h-1zM1097 253h1v5h-1zM1095 258h5v11h-5zM1097 269h1v8h-1zM1105 263h1v5h-1zM1103 268h5v27h-5zM1105 295h1v6h-1zM1113 288h1v1h-1zM1111 289h5v1h-5zM1111 291h5v1h-5zM1111 289h1v3h-1zM1115 289h1v3h-1zM1113 292h1v1h-1zM1121 273h1v16h-1zM1119 289h5v9h-5zM1121 298h1v5h-1zM1129 292h1v5h-1zM1127 297h5v9h-5zM1129 306h1v3h-1zM1135 305h5v29h-5zM1137 334h1v24h-1zM1145 316h1v18h-1zM1143 334h5v12h-5zM1145 346h1v21h-1zM1153 322h1v6h-1zM1151 328h5v1h-5zM1151 345h5v1h-5zM1151 328h1v18h-1zM1155 328h1v18h-1zM1153 346h1v31h-1zM1161 336h1v4h-1zM1159 340h5v7h-5zM1161 347h1v1h-1zM1169 336h1v4h-1zM1167 340h5v1h-5zM1167 345h5v1h-5zM1167 340h1v6h-1zM1171 340h1v6h-1zM1169 346h1v13h-1zM1177 260h1v10h-1zM1175 270h5v1h-5zM1175 339h5v1h-5zM1175 270h1v70h-1zM1179 270h1v70h-1zM1177 340h1v8h-1zM1185 262h1v7h-1zM1183 269h5v69h-5zM1185 338h1v10h-1zM1193 302h1v7h-1zM1191 309h5v1h-5zM1191 338h5v1h-5zM1191 309h1v30h-1zM1195 309h1v30h-1zM1193 339h1v12h-1zM1201 307h1v3h-1zM1199 310h5v11h-5zM1201 321h1v15h-1zM1209 308h1v2h-1zM1207 310h5v1h-5zM1207 315h5v1h-5zM1207 310h1v6h-1zM1211 310h1v6h-1zM1209 316h1v3h-1zM1217 201h1v19h-1zM1215 220h5v1h-5zM1215 311h5v1h-5zM1215 220h1v92h-1zM1219 220h1v92h-1zM1217 312h1v2h-1zM1225 168h1v7h-1zM1223 175h5v1h-5zM1223 219h5v1h-5zM1223 175h1v45h-1zM1227 175h1v45h-1zM1225 220h1v11h-1zM1233 148h1v27h-1zM1231 175h5v9h-5zM1233 184h1v7h-1zM1239 182h5v55h-5zM1241 237h1v10h-1zM1249 217h1v21h-1zM1247 238h5v4h-5zM1249 242h1v12h-1zM1257 220h1v2h-1zM1255 222h5v1h-5zM1255 238h5v1h-5zM1255 222h1v17h-1zM1259 222h1v17h-1zM1257 239h1v1h-1zM1265 203h1v19h-1zM1263 222h5v7h-5zM1265 229h1v21h-1zM1273 223h1v6h-1zM1271 229h5v5h-5zM1273 234h1v3h-1zM1281 229h1v4h-1zM1279 233h5v17h-5zM1289 236h1v14h-1zM1287 250h5v6h-5zM1289 256h1v12h-1zM1297 234h1v6h-1zM1295 240h5v1h-5zM1295 255h5v1h-5zM1295 240h1v16h-1zM1299 240h1v16h-1zM1297 256h1v1h-1zM1305 231h1v1h-1zM1303 232h5v1h-5zM1303 236h5v1h-5zM1303 232h1v5h-1zM1307 232h1v5h-1zM1305 237h1v3h-1zM1313 185h1v1h-1zM1311 186h5v1h-5zM1311 232h5v1h-5zM1311 186h1v47h-1zM1315 186h1v47h-1zM1313 233h1v1h-1zM1321 165h1v9h-1zM1319 174h5v1h-5zM1319 185h5v1h-5zM1319 174h1v12h-1zM1323 174h1v12h-1zM1321 186h1v8h-1zM1329 164h1v6h-1zM1327 170h5v1h-5zM1327 173h5v1h-5zM1327 170h1v4h-1zM1331 170h1v4h-1zM1329 174h1v25h-1zM1337 167h1v3h-1zM1335 170h5v20h-5zM1337 190h1v12h-1zM1343 189h5v33h-5zM1345 222h1v3h-1zM1353 202h1v5h-1zM1351 207h5v1h-5zM1351 212h5v1h-5zM1351 207h1v6h-1zM1355 207h1v6h-1zM1353 213h1v2h-1zM1361 180h1v15h-1zM1359 195h5v1h-5zM1359 206h5v1h-5zM1359 195h1v12h-1zM1363 195h1v12h-1zM1361 207h1v14h-1zM1369 147h1v12h-1zM1367 159h5v1h-5zM1367 194h5v1h-5zM1367 159h1v36h-1zM1371 159h1v36h-1zM1369 195h1v5h-1zM1377 142h1v17h-1zM1375 159h5v15h-5zM1377 174h1v29h-1zM1385 148h1v31h-1zM1383 173h5v1h-5zM1393 131h1v31h-1zM1391 162h5v1h-5zM1391 171h5v1h-5zM1391 162h1v10h-1zM1395 162h1v10h-1zM1393 172h1v10h-1zM1401 164h1v5h-1zM1399 168h5v1h-5zM1409 166h1v1h-1zM1407 167h5v36h-5zM1409 203h1v34h-1zM1417 183h1v9h-1zM1415 192h5v1h-5zM1415 200h5v1h-5zM1415 192h1v9h-1zM1419 192h1v9h-1zM1417 201h1v20h-1zM1425 146h1v37h-1zM1423 183h5v1h-5zM1423 191h5v1h-5zM1423 183h1v9h-1zM1427 183h1v9h-1zM1425 192h1v1h-1zM1433 172h1v11h-1zM1431 183h5v32h-5zM1433 215h1v8h-1zM1441 212h1v2h-1zM1439 214h5v40h-5zM1441 254h1v30h-1z"/>
</g>
<rect x="1194" y="237" width="300" height="8" fill="#00fa00" shape-rendering="crispEdges"/>
<path d="M1388.6 147.7L1442 271" stroke="#ff0000" stroke-width="3.6" fill="none"/>
<path d="M1445.6 278.6L1436.6 269.4L1446 265.6Z" fill="#ff0000" stroke="#ff0000" stroke-width="1.5" stroke-linejoin="round"/>
<rect x="1530.5" y="244.5" width="110" height="24" fill="none" stroke="#333" stroke-width="1" shape-rendering="crispEdges"/>
<rect x="1529.5" y="253" width="2" height="2" fill="#000"/><rect x="1639.5" y="253" width="2" height="2" fill="#000"/>
<rect x="1583" y="242" width="3" height="3" fill="none" stroke="#00ff00" stroke-width="0.8"/>
<path transform="translate(1531.00 246.00) scale(0.950)" d="M9 0.5L4 5M6 3H13L3 10.5M6.5 6L9 8M11.5 8.5L6 13.5M9.5 11H17L3 19.5M9.5 14.5L12 16.5" fill="none" stroke="#00ff00" stroke-width="1.316" stroke-linecap="square"/><path transform="translate(1552.60 246.00) scale(0.950)" d="M10 0L10.5 2.2M2 5.5V2.5H18V5.5M8 4.5L4 8.5M12 4.5L16 8.5M5 11H15M10 11V18.5M2 18.5H18" fill="none" stroke="#00ff00" stroke-width="1.316" stroke-linecap="square"/><path transform="translate(1574.20 246.00) scale(0.950)" d="M1 3.5H8M5 0.5L2 10.5H8.5M5.2 6.5V19.5M1 14.5L8.5 13.5M10 4.5H18.5M13.5 0.5L12.5 11M9.5 8H19.5M11 11.5H17L14 15.5M13 14.5L17 18.5" fill="none" stroke="#00ff00" stroke-width="1.316" stroke-linecap="square"/><path transform="translate(1595.80 246.00) scale(0.950)" d="M1 6H7.5M4.5 1V18.5L3 17.5M1 13.5L7.5 10.5M18.5 1L11 4V12Q11 16 9 19.5M11 8.5H19.5M15.5 8.5V19.5" fill="none" stroke="#00ff00" stroke-width="1.316" stroke-linecap="square"/><path transform="translate(1617.40 246.00) scale(0.950)" d="M9 0V8.5M9 4H16.5M4 8.5H16V13.5H4ZM3 15.5L1.8 19.5M7.5 16L8.5 19.5M11.5 16L12.8 19.5M16 15.5L18.2 19.5" fill="none" stroke="#00ff00" stroke-width="1.316" stroke-linecap="square"/>
<g shape-rendering="crispEdges"><rect x="0" y="26" width="1692" height="1" fill="#000"/><rect x="0" y="26" width="1" height="902" fill="#000"/><rect x="1691" y="26" width="1" height="902" fill="#000"/><rect x="0" y="579" width="1692" height="1" fill="#000"/><rect x="0" y="581" width="1692" height="1" fill="#000"/><rect x="0" y="751" width="1692" height="1" fill="#000"/><rect x="0" y="753" width="1692" height="1" fill="#000"/><rect x="0" y="927" width="1692" height="1" fill="#000"/></g>
<g shape-rendering="crispEdges"><rect x="1692" y="48" width="3" height="1" fill="#000"/><text x="1697.50" y="52.30" font-size="10.3" fill="#000" text-anchor="start" textLength="32.3" lengthAdjust="spacingAndGlyphs">142.835</text><rect x="1692" y="81" width="3" height="1" fill="#000"/><text x="1697.50" y="85.30" font-size="10.3" fill="#000" text-anchor="start" textLength="32.3" lengthAdjust="spacingAndGlyphs">141.985</text><rect x="1692" y="114" width="3" height="1" fill="#000"/><text x="1697.50" y="118.30" font-size="10.3" fill="#000" text-anchor="start" textLength="32.3" lengthAdjust="spacingAndGlyphs">141.135</text><rect x="1692" y="147" width="3" height="1" fill="#000"/><text x="1697.50" y="151.30" font-size="10.3" fill="#000" text-anchor="start" textLength="32.3" lengthAdjust="spacingAndGlyphs">140.285</text><rect x="1692" y="180" width="3" height="1" fill="#000"/><text x="1697.50" y="184.30" font-size="10.3" fill="#000" text-anchor="start" textLength="32.3" lengthAdjust="spacingAndGlyphs">139.435</text><rect x="1692" y="213" width="3" height="1" fill="#000"/><text x="1697.50" y="217.30" font-size="10.3" fill="#000" text-anchor="start" textLength="32.3" lengthAdjust="spacingAndGlyphs">138.585</text><rect x="1692" y="246" width="3" height="1" fill="#000"/><text x="1697.50" y="250.30" font-size="10.3" fill="#000" text-anchor="start" textLength="32.3" lengthAdjust="spacingAndGlyphs">137.735</text><rect x="1692" y="279" width="3" height="1" fill="#000"/><text x="1697.50" y="283.30" font-size="10.3" fill="#000" text-anchor="start" textLength="32.3" lengthAdjust="spacingAndGlyphs">136.885</text><rect x="1692" y="312" width="3" height="1" fill="#000"/><text x="1697.50" y="316.30" font-size="10.3" fill="#000" text-anchor="start" textLength="32.3" lengthAdjust="spacingAndGlyphs">136.035</text><rect x="1692" y="345" width="3" height="1" fill="#000"/><text x="1697.50" y="349.30" font-size="10.3" fill="#000" text-anchor="start" textLength="32.3" lengthAdjust="spacingAndGlyphs">135.185</text><rect x="1692" y="378" width="3" height="1" fill="#000"/><text x="1697.50" y="382.30" font-size="10.3" fill="#000" text-anchor="start" textLength="32.3" lengthAdjust="spacingAndGlyphs">134.335</text><rect x="1692" y="411" width="3" height="1" fill="#000"/><text x="1697.50" y="415.30" font-size="10.3" fill="#000" text-anchor="start" textLength="32.3" lengthAdjust="spacingAndGlyphs">133.485</text><rect x="1692" y="444" width="3" height="1" fill="#000"/><text x="1697.50" y="448.30" font-size="10.3" fill="#000" text-anchor="start" textLength="32.3" lengthAdjust="spacingAndGlyphs">132.635</text><rect x="1692" y="477" width="3" height="1" fill="#000"/><text x="1697.50" y="481.30" font-size="10.3" fill="#000" text-anchor="start" textLength="32.3" lengthAdjust="spacingAndGlyphs">131.785</text><rect x="1692" y="510" width="3" height="1" fill="#000"/><text x="1697.50" y="514.30" font-size="10.3" fill="#000" text-anchor="start" textLength="32.3" lengthAdjust="spacingAndGlyphs">130.935</text><rect x="1692" y="543" width="3" height="1" fill="#000"/><text x="1697.50" y="547.30" font-size="10.3" fill="#000" text-anchor="start" textLength="32.3" lengthAdjust="spacingAndGlyphs">130.085</text><rect x="1692" y="576" width="3" height="1" fill="#000"/><text x="1697.50" y="580.30" font-size="10.3" fill="#000" text-anchor="start" textLength="32.3" lengthAdjust="spacingAndGlyphs">129.235</text></g>
<rect x="1693" y="190" width="41" height="11" fill="#ff0000"/>
<text x="1697.80" y="199.70" font-size="10.3" fill="#fff" text-anchor="start" textLength="32.3" lengthAdjust="spacingAndGlyphs">139.019</text>
<rect x="1693" y="215" width="41" height="11" fill="#ff0000"/>
<text x="1697.80" y="224.70" font-size="10.3" fill="#fff" text-anchor="start" textLength="32.3" lengthAdjust="spacingAndGlyphs">138.376</text>
<rect x="1693" y="234" width="41" height="11" fill="#32cd32"/>
<text x="1697.80" y="243.70" font-size="10.3" fill="#fff" text-anchor="start" textLength="32.3" lengthAdjust="spacingAndGlyphs">137.887</text>
<rect x="1693" y="247" width="41" height="11" fill="#000000"/>
<text x="1697.80" y="256.70" font-size="10.3" fill="#fff" text-anchor="start" textLength="32.3" lengthAdjust="spacingAndGlyphs">137.547</text>
<rect x="1693" y="264" width="41" height="11" fill="#0000ff"/>
<text x="1697.80" y="273.70" font-size="10.3" fill="#fff" text-anchor="start" textLength="31.6" lengthAdjust="spacingAndGlyphs">137.115</text>
<rect x="1693" y="286" width="41" height="11" fill="#0000ff"/>
<text x="1697.80" y="295.70" font-size="10.3" fill="#fff" text-anchor="start" textLength="32.3" lengthAdjust="spacingAndGlyphs">136.548</text>
<path d="M1448.8 27H1458.2L1453.5 32.2Z" fill="#c0c0c0"/>
<path d="M4.5 37.5L7.8 33L11 37.5Z" fill="#000"/>
<text x="15.80" y="38.60" font-size="10.3" fill="#000" text-anchor="start" textLength="210.0" lengthAdjust="spacingAndGlyphs">GBPJPY-,Daily&#160;&#160;138.549 138.608 136.774 137.547</text>
<rect x="4" y="46" width="52" height="24" fill="url(#hdr)"/><rect x="171" y="46" width="52" height="24" fill="url(#hdr)"/><rect x="56" y="46" width="115" height="24" fill="#f2f2f2"/><rect x="58.5" y="46.5" width="110" height="21" fill="#fff" stroke="#b8b8b8" stroke-width="1"/><rect x="59" y="47" width="20" height="20" fill="url(#btn)"/><rect x="147.5" y="47" width="21" height="20" fill="url(#btn)"/><rect x="79" y="47" width="1" height="20" fill="#c8c8c8"/><rect x="147" y="47" width="1" height="20" fill="#c8c8c8"/><path d="M66.5 55h4l-2 2.2z" fill="#5060a0"/><path d="M155.5 57.5h4l-2 -2.2z" fill="#5060a0"/><rect x="4" y="70" width="109" height="40" fill="url(#pbox)"/><rect x="115" y="70" width="108" height="40" fill="url(#pbox)"/><rect x="8" y="70" width="44" height="1" fill="#7a7af0"/><rect x="175" y="70" width="44" height="1" fill="#7a7af0"/><text x="16.5" y="61.8" font-size="12.5" fill="#fff" text-anchor="start" font-weight="normal" textLength="25.5" lengthAdjust="spacingAndGlyphs">SELL</text><text x="184.5" y="61.8" font-size="12.5" fill="#fff" text-anchor="start" font-weight="normal" textLength="23.5" lengthAdjust="spacingAndGlyphs">BUY</text><text x="143.8" y="61.2" font-size="12.5" fill="#000" text-anchor="end" font-weight="normal" >1.00</text><text x="27" y="101.2" font-size="12" fill="#fff" text-anchor="start" font-weight="bold" textLength="20.5" lengthAdjust="spacingAndGlyphs">137</text><text x="53" y="101.2" font-size="34" fill="#fff" text-anchor="start" font-weight="normal" textLength="32" lengthAdjust="spacingAndGlyphs">54</text><text x="92" y="84.5" font-size="10.5" fill="#fff" text-anchor="start" font-weight="normal" >7</text><text x="137.6" y="101.2" font-size="12" fill="#fff" text-anchor="start" font-weight="bold" textLength="20.5" lengthAdjust="spacingAndGlyphs">137</text><text x="163.6" y="101.2" font-size="34" fill="#fff" text-anchor="start" font-weight="normal" textLength="32" lengthAdjust="spacingAndGlyphs">59</text><text x="202.6" y="84.5" font-size="10.5" fill="#fff" text-anchor="start" font-weight="normal" >7</text>
<g clip-path="url(#macdc)" shape-rendering="crispEdges"><path fill="#c0c0c0" d="M1 675h1v36h-1zM9 675h1v42h-1zM17 675h1v40h-1zM25 675h1v34h-1zM33 675h1v31h-1zM41 675h1v28h-1zM49 675h1v28h-1zM57 675h1v26h-1zM65 675h1v24h-1zM73 675h1v18h-1zM81 675h1v14h-1zM89 675h1v9h-1zM97 675h1v4h-1zM105 675h1v1h-1zM113 666h1v10h-1zM121 649h1v27h-1zM129 635h1v41h-1zM137 622h1v54h-1zM145 608h1v68h-1zM153 596h1v80h-1zM161 592h1v84h-1zM169 594h1v82h-1zM177 601h1v75h-1zM185 614h1v62h-1zM193 626h1v50h-1zM201 635h1v41h-1zM209 636h1v40h-1zM217 641h1v35h-1zM225 648h1v28h-1zM233 660h1v16h-1zM241 672h1v4h-1zM249 675h1v8h-1zM257 675h1v9h-1zM265 675h1v11h-1zM273 675h1v14h-1zM281 675h1v16h-1zM289 675h1v20h-1zM297 675h1v23h-1zM305 675h1v24h-1zM313 675h1v20h-1zM321 675h1v16h-1zM329 675h1v12h-1zM337 675h1v8h-1zM345 675h1v5h-1zM353 675h1v3h-1zM361 673h1v3h-1zM369 667h1v9h-1zM377 664h1v12h-1zM385 662h1v14h-1zM393 660h1v16h-1zM401 661h1v15h-1zM409 661h1v15h-1zM417 661h1v15h-1zM425 662h1v14h-1zM433 663h1v13h-1zM441 664h1v12h-1zM449 660h1v16h-1zM457 656h1v20h-1zM465 652h1v24h-1zM473 650h1v26h-1zM481 651h1v25h-1zM489 652h1v24h-1zM497 652h1v24h-1zM505 652h1v24h-1zM513 650h1v26h-1zM521 646h1v30h-1zM529 637h1v39h-1zM537 630h1v46h-1zM545 625h1v51h-1zM553 624h1v52h-1zM561 622h1v54h-1zM569 621h1v55h-1zM577 622h1v54h-1zM585 624h1v52h-1zM593 624h1v52h-1zM601 624h1v52h-1zM609 622h1v54h-1zM617 620h1v56h-1zM625 620h1v56h-1zM633 620h1v56h-1zM641 624h1v52h-1zM649 625h1v51h-1zM657 628h1v48h-1zM665 629h1v47h-1zM673 634h1v42h-1zM681 639h1v37h-1zM689 643h1v33h-1zM697 641h1v35h-1zM705 640h1v36h-1zM713 636h1v40h-1zM721 634h1v42h-1zM729 632h1v44h-1zM737 628h1v48h-1zM745 624h1v52h-1zM753 622h1v54h-1zM761 625h1v51h-1zM769 627h1v49h-1zM777 630h1v46h-1zM785 637h1v39h-1zM793 652h1v24h-1zM801 662h1v14h-1zM809 675h1v4h-1zM817 675h1v17h-1zM825 675h1v27h-1zM833 675h1v35h-1zM841 675h1v40h-1zM849 675h1v43h-1zM857 675h1v46h-1zM865 675h1v50h-1zM873 675h1v53h-1zM881 675h1v59h-1zM889 675h1v64h-1zM897 675h1v67h-1zM905 675h1v66h-1zM913 675h1v65h-1zM921 675h1v62h-1zM929 675h1v55h-1zM937 675h1v48h-1zM945 675h1v41h-1zM953 675h1v36h-1zM961 675h1v31h-1zM969 675h1v25h-1zM977 675h1v17h-1zM985 675h1v16h-1zM993 675h1v11h-1zM1001 675h1v6h-1zM1009 675h1v1h-1zM1017 671h1v5h-1zM1025 667h1v9h-1zM1033 670h1v6h-1zM1041 670h1v6h-1zM1049 674h1v2h-1zM1057 675h1v1h-1zM1065 675h1v2h-1zM1073 675h1v2h-1zM1081 675h1v1h-1zM1089 673h1v3h-1zM1097 671h1v5h-1zM1105 672h1v4h-1zM1113 673h1v3h-1zM1121 674h1v2h-1zM1129 675h1v1h-1zM1137 675h1v5h-1zM1145 675h1v10h-1zM1153 675h1v12h-1zM1161 675h1v15h-1zM1169 675h1v16h-1zM1177 675h1v10h-1zM1185 675h1v12h-1zM1193 675h1v11h-1zM1201 675h1v11h-1zM1209 675h1v9h-1zM1217 674h1v2h-1zM1225 661h1v15h-1zM1233 652h1v24h-1zM1241 651h1v25h-1zM1249 651h1v25h-1zM1257 649h1v27h-1zM1265 648h1v28h-1zM1273 649h1v27h-1zM1281 651h1v25h-1zM1289 654h1v22h-1zM1297 654h1v22h-1zM1305 654h1v22h-1zM1313 650h1v26h-1zM1321 645h1v31h-1zM1329 642h1v34h-1zM1337 641h1v35h-1zM1345 644h1v32h-1zM1353 646h1v30h-1zM1361 646h1v30h-1zM1369 643h1v33h-1zM1377 642h1v34h-1zM1385 642h1v34h-1zM1393 641h1v35h-1zM1401 642h1v34h-1zM1409 646h1v30h-1zM1417 648h1v28h-1zM1425 650h1v26h-1zM1433 654h1v22h-1zM1441 662h1v14h-1z"/></g><path d="M1 700.6 L9 703.9 L17 705.8 L25 709.2 L33 709.6 L41 709.4 L49 709.1 L57 708.3 L65 707.2 L73 705.1 L81 702.0 L89 698.5 L97 695.2 L105 691.7 L113 687.7 L121 681.6 L129 674.3 L137 665.8 L145 656.4 L153 646.0 L161 635.8 L169 626.4 L177 618.2 L185 612.5 L193 609.9 L201 609.9 L209 611.4 L217 615.0 L225 620.9 L233 628.4 L241 637.1 L249 646.1 L257 653.9 L265 660.5 L273 666.6 L281 672.6 L289 678.6 L297 684.1 L305 688.5 L313 691.0 L321 692.0 L329 692.3 L337 692.0 L345 691.0 L353 689.5 L361 687.1 L369 683.7 L377 679.7 L385 676.0 L393 672.6 L401 669.6 L409 667.1 L417 665.0 L425 663.3 L433 662.2 L441 661.9 L449 661.5 L457 660.9 L465 660.0 L473 658.8 L481 657.8 L489 656.7 L497 655.6 L505 654.4 L513 652.9 L521 651.2 L529 649.1 L537 646.6 L545 643.9 L553 640.9 L561 637.6 L569 634.1 L577 630.7 L585 627.8 L593 625.5 L601 624.0 L609 623.2 L617 622.6 L625 622.2 L633 621.9 L641 622.3 L649 622.6 L657 623.0 L665 623.5 L673 624.7 L681 626.5 L689 629.0 L697 631.3 L705 633.5 L713 634.9 L721 635.9 L729 636.3 L737 636.2 L745 635.1 L753 633.2 L761 631.3 L769 629.7 L777 628.6 L785 628.6 L793 630.7 L801 634.0 L809 639.7 L817 647.3 L825 656.2 L833 665.6 L841 675.4 L849 685.2 L857 694.6 L865 702.7 L873 710.0 L881 716.2 L889 721.3 L897 725.8 L905 729.3 L913 732.0 L921 734.2 L929 735.2 L937 735.0 L945 733.7 L953 731.1 L961 727.4 L969 722.8 L977 717.4 L985 711.9 L993 706.2 L1001 700.8 L1009 695.4 L1017 690.4 L1025 685.5 L1033 681.5 L1041 678.2 L1049 676.1 L1057 674.4 L1065 673.4 L1073 672.9 L1081 673.0 L1089 673.2 L1097 673.6 L1105 673.8 L1113 674.1 L1121 674.2 L1129 674.2 L1137 674.7 L1145 675.6 L1153 676.8 L1161 678.7 L1169 681.0 L1177 682.4 L1185 684.0 L1193 685.3 L1201 686.4 L1209 686.8 L1217 685.6 L1225 682.7 L1233 678.5 L1241 674.0 L1249 670.1 L1257 665.9 L1265 661.7 L1273 657.5 L1281 653.8 L1289 651.5 L1297 650.8 L1305 651.0 L1313 650.9 L1321 650.3 L1329 649.5 L1337 648.7 L1345 648.3 L1353 647.8 L1361 647.0 L1369 645.7 L1377 644.4 L1385 643.6 L1393 643.1 L1401 643.1 L1409 643.7 L1417 644.1 L1425 644.5 L1433 645.4 L1441 647.5" fill="none" stroke="#ff0000" stroke-width="1" stroke-dasharray="3 3" clip-path="url(#macdc)" shape-rendering="crispEdges"/><text x="5.50" y="593.80" font-size="10.3" fill="#000" text-anchor="start" textLength="127.0" lengthAdjust="spacingAndGlyphs">MACD(12,26,9) 0.2595 0.5513</text><g shape-rendering="crispEdges"><rect x="1692" y="582" width="2" height="1" fill="#000"/><rect x="1692" y="675" width="2" height="1" fill="#000"/><rect x="1692" y="750" width="2" height="1" fill="#000"/></g><text x="1695.30" y="592.40" font-size="10.3" fill="#000" text-anchor="start" textLength="22.8" lengthAdjust="spacingAndGlyphs">1.787</text><text x="1695.30" y="679.30" font-size="10.3" fill="#000" text-anchor="start" textLength="17.7" lengthAdjust="spacingAndGlyphs">0.00</text><text x="1695.30" y="748.00" font-size="10.3" fill="#000" text-anchor="start" textLength="25.8" lengthAdjust="spacingAndGlyphs">-1.471</text>
<path d="M2 789.5H1691" stroke="#c0c0c0" stroke-width="1" stroke-dasharray="3 3" shape-rendering="crispEdges"/><path d="M2 841.5H1691" stroke="#c0c0c0" stroke-width="1" stroke-dasharray="3 3" shape-rendering="crispEdges"/><path d="M2 901.5H1691" stroke="#c0c0c0" stroke-width="1" stroke-dasharray="3 3" shape-rendering="crispEdges"/><path d="M1 864.4 L9 867.0 L17 851.6 L25 841.4 L33 845.4 L41 846.2 L49 851.0 L57 847.5 L65 846.4 L73 835.1 L81 838.9 L89 835.1 L97 832.4 L105 831.5 L113 819.9 L121 803.9 L129 803.3 L137 800.6 L145 795.1 L153 792.9 L161 809.6 L169 820.6 L177 829.8 L185 843.4 L193 844.0 L201 843.6 L209 831.3 L217 837.4 L225 844.8 L233 853.0 L241 858.5 L249 859.3 L257 844.4 L265 846.9 L273 850.0 L281 847.3 L289 853.6 L297 853.0 L305 851.8 L313 839.1 L321 838.7 L329 837.0 L337 836.0 L345 834.9 L353 836.2 L361 827.9 L369 824.1 L377 826.3 L385 828.5 L393 828.9 L401 834.1 L409 832.1 L417 835.3 L425 833.1 L433 839.1 L441 835.4 L449 820.8 L457 817.3 L465 813.2 L473 821.2 L481 829.2 L489 828.5 L497 827.1 L505 825.1 L513 818.2 L521 807.6 L529 797.0 L537 796.4 L545 796.6 L553 807.3 L561 804.1 L569 802.7 L577 812.5 L585 815.4 L593 810.0 L601 806.1 L609 802.5 L617 798.6 L625 806.2 L633 804.6 L641 820.6 L649 814.4 L657 822.5 L665 815.1 L673 834.4 L681 833.3 L689 834.7 L697 818.6 L705 818.4 L713 810.2 L721 813.3 L729 810.5 L737 804.3 L745 802.3 L753 805.1 L761 824.4 L769 819.8 L777 825.1 L785 838.8 L793 863.3 L801 854.8 L809 869.4 L817 870.8 L825 867.9 L833 868.6 L841 869.0 L849 863.3 L857 866.1 L865 871.3 L873 870.4 L881 877.5 L889 879.5 L897 879.0 L905 868.5 L913 869.2 L921 863.4 L929 848.7 L937 845.9 L945 842.5 L953 845.2 L961 840.6 L969 839.0 L977 827.1 L985 844.1 L993 834.8 L1001 831.1 L1009 825.7 L1017 827.3 L1025 827.0 L1033 844.2 L1041 839.0 L1049 849.2 L1057 844.8 L1065 844.8 L1073 841.1 L1081 839.7 L1089 829.4 L1097 833.4 L1105 842.9 L1113 841.0 L1121 844.1 L1129 847.1 L1137 856.5 L1145 860.1 L1153 852.2 L1161 858.0 L1169 855.1 L1177 829.5 L1185 849.7 L1193 841.5 L1201 844.6 L1209 841.5 L1217 820.5 L1225 813.1 L1233 815.7 L1241 830.4 L1249 831.7 L1257 827.5 L1265 829.3 L1273 831.0 L1281 835.6 L1289 837.5 L1297 833.0 L1305 830.9 L1313 819.7 L1321 816.9 L1329 816.2 L1337 823.8 L1345 834.9 L1353 830.9 L1361 827.4 L1369 818.7 L1377 824.1 L1385 823.9 L1393 821.1 L1401 823.4 L1409 837.0 L1417 833.5 L1425 830.8 L1433 842.3 L1441 854.0" fill="none" stroke="#1e90ff" stroke-width="1" clip-path="url(#rsic)" shape-rendering="crispEdges"/><text x="5.30" y="766.00" font-size="10.3" fill="#000" text-anchor="start" textLength="67.5" lengthAdjust="spacingAndGlyphs">RSI(14) 42.0650</text><rect x="1692" y="755" width="2" height="1" fill="#000" shape-rendering="crispEdges"/><text x="1695.30" y="763.50" font-size="10.3" fill="#000" text-anchor="start" textLength="15.1" lengthAdjust="spacingAndGlyphs">100</text><rect x="1692" y="789" width="2" height="1" fill="#000" shape-rendering="crispEdges"/><text x="1694.20" y="792.80" font-size="10.3" fill="#000" text-anchor="start" textLength="10.0" lengthAdjust="spacingAndGlyphs">80</text><rect x="1692" y="841" width="2" height="1" fill="#000" shape-rendering="crispEdges"/><text x="1694.20" y="843.80" font-size="10.3" fill="#000" text-anchor="start" textLength="10.0" lengthAdjust="spacingAndGlyphs">50</text><rect x="1692" y="901" width="2" height="1" fill="#000" shape-rendering="crispEdges"/><text x="1694.20" y="904.50" font-size="10.3" fill="#000" text-anchor="start" textLength="10.0" lengthAdjust="spacingAndGlyphs">15</text><rect x="1692" y="927" width="2" height="1" fill="#000" shape-rendering="crispEdges"/><text x="1695.30" y="923.50" font-size="10.3" fill="#000" text-anchor="start" textLength="5.0" lengthAdjust="spacingAndGlyphs">0</text>
<rect x="1" y="928" width="1" height="3" fill="#000" shape-rendering="crispEdges"/><text x="0.70" y="940" font-size="10.3" fill="#000" textLength="54.0" lengthAdjust="spacingAndGlyphs">15 May 2020</text><rect x="65" y="928" width="1" height="3" fill="#000" shape-rendering="crispEdges"/><text x="64.70" y="940" font-size="10.3" fill="#000" textLength="54.7" lengthAdjust="spacingAndGlyphs">25 May 2020</text><rect x="129" y="928" width="1" height="3" fill="#000" shape-rendering="crispEdges"/><text x="128.70" y="940" font-size="10.3" fill="#000" textLength="43.6" lengthAdjust="spacingAndGlyphs">3 Jun 2020</text><rect x="193" y="928" width="1" height="3" fill="#000" shape-rendering="crispEdges"/><text x="192.70" y="940" font-size="10.3" fill="#000" textLength="48.5" lengthAdjust="spacingAndGlyphs">12 Jun 2020</text><rect x="257" y="928" width="1" height="3" fill="#000" shape-rendering="crispEdges"/><text x="256.70" y="940" font-size="10.3" fill="#000" textLength="48.1" lengthAdjust="spacingAndGlyphs">22 Jun 2020</text><rect x="321" y="928" width="1" height="3" fill="#000" shape-rendering="crispEdges"/><text x="320.70" y="940" font-size="10.3" fill="#000" textLength="40.2" lengthAdjust="spacingAndGlyphs">1 Jul 2020</text><rect x="385" y="928" width="1" height="3" fill="#000" shape-rendering="crispEdges"/><text x="384.70" y="940" font-size="10.3" fill="#000" textLength="45.4" lengthAdjust="spacingAndGlyphs">10 Jul 2020</text><rect x="449" y="928" width="1" height="3" fill="#000" shape-rendering="crispEdges"/><text x="448.70" y="940" font-size="10.3" fill="#000" textLength="45.7" lengthAdjust="spacingAndGlyphs">20 Jul 2020</text><rect x="513" y="928" width="1" height="3" fill="#000" shape-rendering="crispEdges"/><text x="512.70" y="940" font-size="10.3" fill="#000" textLength="45.4" lengthAdjust="spacingAndGlyphs">29 Jul 2020</text><rect x="577" y="928" width="1" height="3" fill="#000" shape-rendering="crispEdges"/><text x="576.70" y="940" font-size="10.3" fill="#000" textLength="47.5" lengthAdjust="spacingAndGlyphs">7 Aug 2020</text><rect x="641" y="928" width="1" height="3" fill="#000" shape-rendering="crispEdges"/><text x="640.70" y="940" font-size="10.3" fill="#000" textLength="52.3" lengthAdjust="spacingAndGlyphs">17 Aug 2020</text><rect x="705" y="928" width="1" height="3" fill="#000" shape-rendering="crispEdges"/><text x="704.70" y="940" font-size="10.3" fill="#000" textLength="52.2" lengthAdjust="spacingAndGlyphs">26 Aug 2020</text><rect x="769" y="928" width="1" height="3" fill="#000" shape-rendering="crispEdges"/><text x="768.70" y="940" font-size="10.3" fill="#000" textLength="46.8" lengthAdjust="spacingAndGlyphs">4 Sep 2020</text><rect x="833" y="928" width="1" height="3" fill="#000" shape-rendering="crispEdges"/><text x="832.70" y="940" font-size="10.3" fill="#000" textLength="51.3" lengthAdjust="spacingAndGlyphs">14 Sep 2020</text><rect x="897" y="928" width="1" height="3" fill="#000" shape-rendering="crispEdges"/><text x="896.70" y="940" font-size="10.3" fill="#000" textLength="51.5" lengthAdjust="spacingAndGlyphs">23 Sep 2020</text><rect x="961" y="928" width="1" height="3" fill="#000" shape-rendering="crispEdges"/><text x="960.70" y="940" font-size="10.3" fill="#000" textLength="45.7" lengthAdjust="spacingAndGlyphs">2 Oct 2020</text><rect x="1025" y="928" width="1" height="3" fill="#000" shape-rendering="crispEdges"/><text x="1024.70" y="940" font-size="10.3" fill="#000" textLength="50.1" lengthAdjust="spacingAndGlyphs">12 Oct 2020</text><rect x="1089" y="928" width="1" height="3" fill="#000" shape-rendering="crispEdges"/><text x="1088.70" y="940" font-size="10.3" fill="#000" textLength="49.9" lengthAdjust="spacingAndGlyphs">21 Oct 2020</text><rect x="1153" y="928" width="1" height="3" fill="#000" shape-rendering="crispEdges"/><text x="1152.70" y="940" font-size="10.3" fill="#000" textLength="50.1" lengthAdjust="spacingAndGlyphs">30 Oct 2020</text><rect x="1217" y="928" width="1" height="3" fill="#000" shape-rendering="crispEdges"/><text x="1216.70" y="940" font-size="10.3" fill="#000" textLength="48.3" lengthAdjust="spacingAndGlyphs">9 Nov 2020</text><rect x="1281" y="928" width="1" height="3" fill="#000" shape-rendering="crispEdges"/><text x="1280.70" y="940" font-size="10.3" fill="#000" textLength="53.3" lengthAdjust="spacingAndGlyphs">18 Nov 2020</text><rect x="1345" y="928" width="1" height="3" fill="#000" shape-rendering="crispEdges"/><text x="1344.70" y="940" font-size="10.3" fill="#000" textLength="53.3" lengthAdjust="spacingAndGlyphs">27 Nov 2020</text><rect x="1409" y="928" width="1" height="3" fill="#000" shape-rendering="crispEdges"/><text x="1408.70" y="940" font-size="10.3" fill="#000" textLength="47.2" lengthAdjust="spacingAndGlyphs">7 Dec 2020</text>
</svg>
</body></html>
